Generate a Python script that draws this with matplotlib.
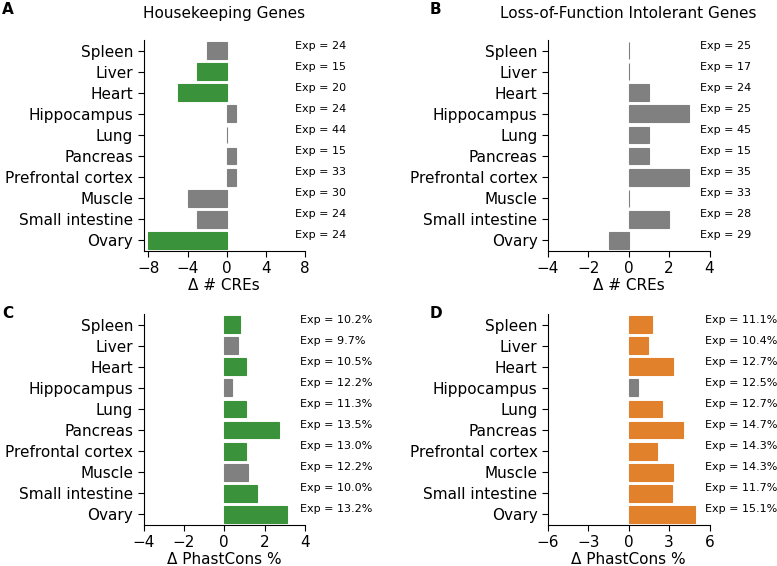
import numpy as np
import matplotlib
matplotlib.use('Agg')
import matplotlib.pyplot as plt

tissues = ['Spleen', 'Liver', 'Heart', 'Hippocampus', 'Lung', 'Pancreas',
           'Prefrontal cortex', 'Muscle', 'Small intestine', 'Ovary']

# panel A: housekeeping genes, delta # CREs
hk_cre = [-2, -3, -5, 1, 0, 1, 1, -4, -3, -8]
hk_cre_sig = [0, 1, 1, 0, 0, 0, 0, 0, 0, 1]
hk_cre_exp = ['24', '15', '20', '24', '44', '15', '33', '30', '24', '24']

# panel B: LoF intolerant genes, delta # CREs
lof_cre = [0, 0, 1, 3, 1, 1, 3, 0, 2, -1]
lof_cre_sig = [0, 0, 0, 0, 0, 0, 0, 0, 0, 0]
lof_cre_exp = ['25', '17', '24', '25', '45', '15', '35', '33', '28', '29']

# panel C: housekeeping genes, delta PhastCons %
hk_pc = [0.8, 0.7, 1.1, 0.4, 1.1, 2.7, 1.1, 1.2, 1.6, 3.1]
hk_pc_sig = [1, 0, 1, 0, 1, 1, 1, 0, 1, 1]
hk_pc_exp = ['10.2%', '9.7%', '10.5%', '12.2%', '11.3%', '13.5%', '13.0%',
             '12.2%', '10.0%', '13.2%']

# panel D: LoF intolerant genes, delta PhastCons %
lof_pc = [1.7, 1.4, 3.3, 0.7, 2.5, 4.0, 2.1, 3.3, 3.2, 4.9]
lof_pc_sig = [1, 1, 1, 0, 1, 1, 1, 1, 1, 1]
lof_pc_exp = ['11.1%', '10.4%', '12.7%', '12.5%', '12.7%', '14.7%', '14.3%',
              '14.3%', '11.7%', '15.1%']

GREEN = '#3a923a'
ORANGE = '#e1812c'
GREY = '#808080'

W, H = 777, 566
fig = plt.figure(figsize=(W / 100, H / 100), dpi=100)


def panel(rect, values, sig, exp, color, xlim, xticks, xlabel, text_x, title=None):
    ax = fig.add_axes(rect)
    y = np.arange(len(tissues))
    colors = [color if s else GREY for s in sig]
    ax.barh(y, values, height=0.8, color=colors, edgecolor=colors, linewidth=0.8)
    ax.set_yticks(y)
    ax.set_yticklabels(tissues, fontsize=11)
    ax.set_ylim(9.5, -0.5)
    ax.set_xlim(*xlim)
    ax.set_xticks(xticks)
    ax.set_xticklabels([str(t).replace('-', '\u2212') for t in xticks], fontsize=11)
    ax.set_xlabel(xlabel, fontsize=11, labelpad=1)
    ax.spines['top'].set_visible(False)
    ax.spines['right'].set_visible(False)
    ax.tick_params(length=4, width=0.8)
    # expected counts, next to each row
    for i, e in enumerate(exp):
        ax.text(text_x, i, f'Exp = {e}', transform=ax.get_yaxis_transform(),
                fontsize=8, ha='left', va='bottom')
    if title:
        ax.set_title(title, fontsize=11, pad=16)
    return ax


aw, ah = 161.5 / W, 211 / H
panel([143.5 / W, 1 - 251 / H, aw, ah], hk_cre, hk_cre_sig, hk_cre_exp, GREEN,
      (-8.5, 8), [-8, -4, 0, 4, 8], '\u0394 # CREs', 0.94, 'Housekeeping Genes')
panel([548 / W, 1 - 251 / H, aw, ah], lof_cre, lof_cre_sig, lof_cre_exp, GREY,
      (-4, 4), [-4, -2, 0, 2, 4], '\u0394 # CREs', 0.94,
      'Loss-of-Function Intolerant Genes')
panel([143.5 / W, 1 - 525 / H, aw, ah], hk_pc, hk_pc_sig, hk_pc_exp, GREEN,
      (-4, 4), [-4, -2, 0, 2, 4], '\u0394 PhastCons %', 0.97)
panel([548 / W, 1 - 525 / H, aw, ah], lof_pc, lof_pc_sig, lof_pc_exp, ORANGE,
      (-6, 6), [-6, -3, 0, 3, 6], '\u0394 PhastCons %', 0.97)

for lab, x, y in [('A', 2, 10), ('B', 430, 10), ('C', 2, 313), ('D', 430, 313)]:
    fig.text(x / W, 1 - y / H, lab, fontsize=11, fontweight='bold',
             ha='left', va='center')

fig.savefig('out.png', dpi=100)
